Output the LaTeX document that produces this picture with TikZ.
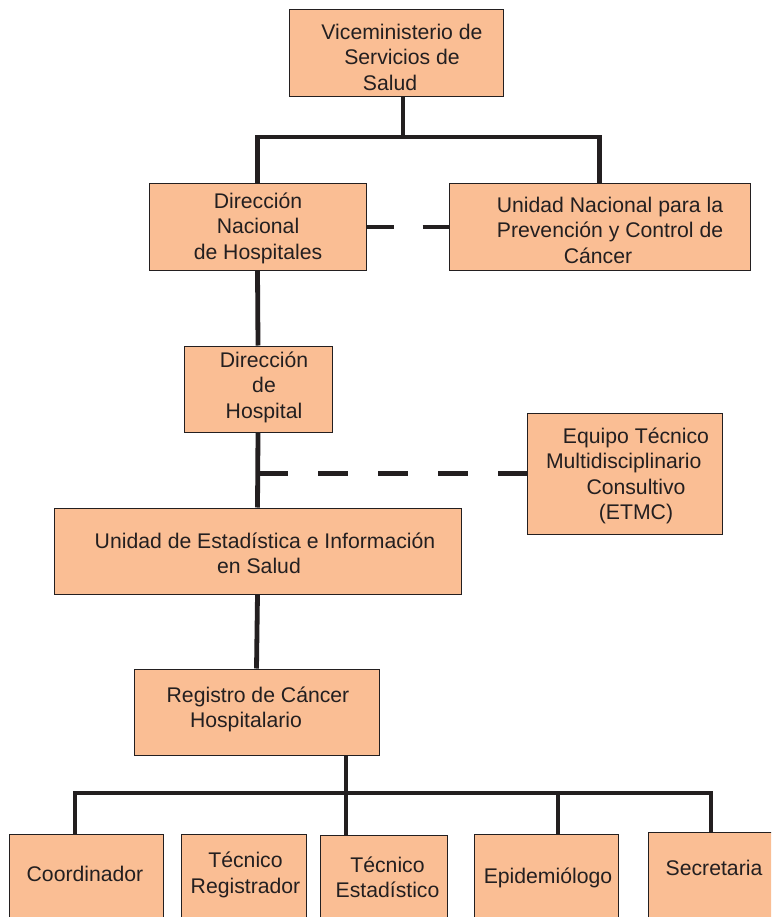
\documentclass[tikz,border=0pt]{standalone}
\usepackage{fontspec}
\setmainfont{Liberation Sans}
\definecolor{peach}{RGB}{250,190,148}
\definecolor{ink}{RGB}{35,31,32}
\begin{document}
\begin{tikzpicture}[x=1pt,y=-1pt,
  box/.style={draw=ink, line width=1pt, fill=peach, inner sep=0pt, rectangle},
  lbl/.style={text=ink, align=center, font=\fontsize{21.2}{25.5}\selectfont, inner sep=0pt},
  conn/.style={draw=ink, line width=4.8pt, line join=miter},
  dconn/.style={conn, dash pattern=on 30pt off 30pt},
  dconnb/.style={conn, dash pattern=on 27pt off 29pt}]
\clip (0,0) rectangle (771,917);
\fill[white] (0,0) rectangle (771,917);
% boxes
\node[box, minimum width=214pt, minimum height=87pt] (vice) at (396,53.5) {};
\node[box, minimum width=217pt, minimum height=86pt] (dnh) at (257.5,227) {};
\node[box, minimum width=301pt, minimum height=86pt] (unp) at (599.5,227) {};
\node[box, minimum width=148pt, minimum height=86pt] (dh) at (258,389) {};
\node[box, minimum width=195pt, minimum height=121pt] (etmc) at (624.5,473.5) {};
\node[box, minimum width=407pt, minimum height=86pt] (ueis) at (257.5,551) {};
\node[box, minimum width=245pt, minimum height=86pt] (rch) at (256.5,712) {};
\node[box, minimum width=154pt, minimum height=91pt] (coo) at (86,879.5) {};
\node[box, minimum width=125pt, minimum height=91pt] (reg) at (243.5,879.5) {};
\node[box, minimum width=127pt, minimum height=91pt] (est) at (383.5,880.5) {};
\node[box, minimum width=144pt, minimum height=91pt] (epi) at (546,879.5) {};
\node[box, minimum width=127pt, minimum height=91pt] (sec) at (711.5,878) {};
% labels
\node[lbl] (tvice) at (402,57) {Viceministerio de\\Servicios de\\Salud\hspace*{24pt}};
\node[lbl] (tdnh) at (258,228) {Direcci\'on\\Nacional\\de Hospitales};
\node[lbl] (tunp) at (610,230) {Unidad Nacional para la\\Prevenci\'on y Control de\\C\'ancer\hspace*{24pt}};
\node[lbl] (tdh) at (264,387) {Direcci\'on\\de\hspace*{22pt}\\Hospital};
\node[lbl] (tetmc) at (636,476) {Equipo T\'ecnico\\\makebox[180pt][l]{Multidisciplinario}\\Consultivo\\(ETMC)};
\node[lbl] (tueis) at (265,553.5) {Unidad de Estad\'istica e Informaci\'on\\en Salud\hspace*{12pt}};
\node[lbl] (trch) at (258,709.5) {Registro de C\'ancer\\Hospitalario\hspace*{24pt}};
\node[lbl] (tcoo) at (85,874) {Coordinador};
\node[lbl] (treg) at (245.5,875) {T\'ecnico\\Registrador};
\node[lbl] (test) at (387.5,877.5) {T\'ecnico\\Estad\'istico};
\node[lbl] (tepi) at (548,878) {Epidemi\'ologo};
\node[lbl] (tsec) at (714,868) {Secretaria};
% connectors
\coordinate (bus1) at (403,137);
\draw[conn] ([xshift=7pt]vice.south) -- (bus1);
\draw[conn] (dnh.north) -- (dnh.north |- bus1) -| (unp.north);
\draw[dconnb] (dnh.east) -- (unp.west);
\draw[conn] (dnh.south) -- (dh.north);
\draw[conn] (dh.south) -- (ueis.north);
\coordinate (j1) at (dh.south |- etmc.west);
\draw[dconn] (j1) -- (etmc.west);
\draw[conn] (ueis.south) -- (rch.north);
\coordinate (rd) at ([xshift=89.5pt]rch.south);
\coordinate (b1) at (75,793);
\coordinate (b3) at (558,793);
\coordinate (b4) at (711,793);
\draw[conn] (rd) -- (rd |- est.north);
\draw[conn] (b1 |- coo.north) -- (b1) -- (b4) -- (b4 |- sec.north);
\draw[conn] (b3) -- (b3 |- epi.north);
\end{tikzpicture}
\end{document}
